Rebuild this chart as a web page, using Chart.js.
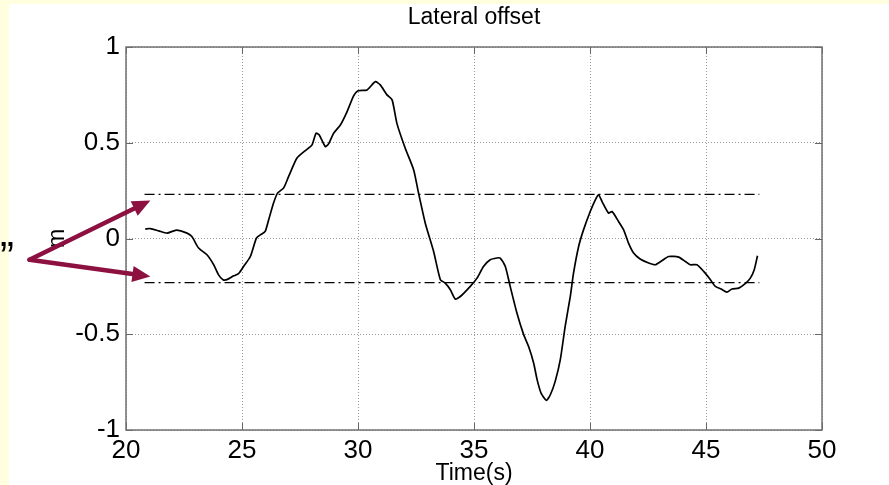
<!DOCTYPE html>
<html>
<head>
<meta charset="utf-8">
<script src="https://cdn.jsdelivr.net/npm/chart.js@4/dist/chart.umd.min.js"></script>
<style>
    html, body { margin: 0; padding: 0; background: #ffffe0; }
    canvas { display: block; }
</style>
</head>
<body>
<canvas id="offsetChart" width="889" height="485"></canvas>
<script>
// values (time in s, lateral offset in m)
const timeS = [20.83, 21.05, 21.41, 21.77, 22.17, 22.63, 22.84, 23.13, 23.49, 23.78,
    23.99, 24.18, 24.35, 24.64, 24.85, 25.07, 25.36, 25.62, 25.79, 26.0,
    26.15, 26.36, 26.53, 26.79, 27.01, 27.37, 27.73, 28.02, 28.19, 28.33,
    28.59, 28.73, 28.95, 29.24, 29.53, 29.81, 30.0, 30.39, 30.75, 30.96,
    31.25, 31.47, 31.68, 32.04, 32.4, 32.61, 32.9, 33.26, 33.55, 33.76,
    33.98, 34.19, 34.41, 34.84, 35.13, 35.41, 35.7, 35.99, 36.13, 36.35,
    36.56, 36.85, 37.14, 37.35, 37.57, 37.72, 37.89, 38.12, 38.29, 38.5,
    38.72, 38.93, 39.15, 39.29, 39.51, 39.72, 40.01, 40.23, 40.37, 40.52,
    40.8, 40.95, 41.23, 41.45, 41.66, 41.88, 42.16, 42.53, 42.81, 43.1,
    43.39, 43.82, 44.11, 44.32, 44.61, 44.9, 45.19, 45.4, 45.65, 45.9,
    46.12, 46.41, 46.69, 46.91, 47.08, 47.22];
const offsetM = [0.049, 0.052, 0.04, 0.028, 0.044, 0.028, 0.01, -0.05, -0.085, -0.137,
    -0.19, -0.215, -0.215, -0.195, -0.184, -0.146, -0.094, 0.002, 0.019, 0.037,
    0.098, 0.185, 0.237, 0.263, 0.324, 0.42, 0.459, 0.489, 0.55, 0.541,
    0.48, 0.494, 0.55, 0.593, 0.663, 0.745, 0.772, 0.776, 0.819, 0.802,
    0.75, 0.724, 0.6, 0.47, 0.358, 0.237, 0.08, -0.068, -0.215, -0.233,
    -0.268, -0.316, -0.303, -0.25, -0.207, -0.146, -0.111, -0.102, -0.102, -0.146,
    -0.25, -0.389, -0.502, -0.563, -0.65, -0.737, -0.807, -0.845, -0.816, -0.746,
    -0.633, -0.459, -0.303, -0.181, -0.042, 0.045, 0.141, 0.202, 0.228, 0.193,
    0.133, 0.141, 0.089, 0.045, -0.024, -0.076, -0.107, -0.128, -0.137, -0.116,
    -0.094, -0.097, -0.12, -0.137, -0.137, -0.172, -0.215, -0.25, -0.264, -0.28,
    -0.264, -0.259, -0.236, -0.207, -0.163, -0.09];

// dash-dot band limits
const bandLimits = [0.23, -0.23];
const bandSpan = [20.8, 47.3];

const xTicks = [20, 25, 30, 35, 40, 45, 50];
const yTicks = [-1, -0.5, 0, 0.5, 1];

// red arrows (data units): one tail, two heads
const arrowTail = { x: 15.84, y: -0.111 };
const arrowHeads = [{ x: 21.05, y: 0.198 }, { x: 21.05, y: -0.198 }];

const FONT = "'Liberation Sans', Arial, sans-serif";

const pagePaint = {
    id: "pagePaint",
    beforeDraw(chart) {
        const ctx = chart.ctx;
        ctx.save();
        ctx.fillStyle = "#ffffe0";
        ctx.fillRect(0, 0, chart.width, chart.height);
        ctx.fillStyle = "#ffffff";
        ctx.fillRect(9, 4, chart.width - 9, chart.height - 4);
        ctx.restore();
    }
};

// MATLAB style box with inward ticks on all sides
const axesBox = {
    id: "axesBox",
    afterDraw(chart) {
        const { ctx, chartArea: a, scales } = chart;
        ctx.save();
        ctx.strokeStyle = "#666";
        ctx.lineWidth = 1;
        ctx.beginPath();
        xTicks.forEach(v => {
            const px = Math.round(scales.x.getPixelForValue(v)) + 0.5;
            ctx.moveTo(px, a.bottom); ctx.lineTo(px, a.bottom - 7);
            ctx.moveTo(px, a.top); ctx.lineTo(px, a.top + 7);
        });
        yTicks.forEach(v => {
            const py = Math.round(scales.y.getPixelForValue(v)) + 0.5;
            ctx.moveTo(a.left, py); ctx.lineTo(a.left + 7, py);
            ctx.moveTo(a.right, py); ctx.lineTo(a.right - 7, py);
        });
        ctx.stroke();
        ctx.lineWidth = 1.5;
        ctx.strokeStyle = "#707070";
        ctx.strokeRect(a.left, a.top, a.right - a.left, a.bottom - a.top);
        ctx.restore();
    }
};

const arrows = {
    id: "arrows",
    afterDraw(chart) {
        const { ctx, scales } = chart;
        const tx = scales.x.getPixelForValue(arrowTail.x);
        const ty = scales.y.getPixelForValue(arrowTail.y);
        ctx.save();
        ctx.strokeStyle = "#8c1040";
        ctx.fillStyle = "#8c1040";
        ctx.lineWidth = 4.5;
        ctx.lineCap = "round";
        arrowHeads.forEach(h => {
            const hx = scales.x.getPixelForValue(h.x);
            const hy = scales.y.getPixelForValue(h.y);
            const ang = Math.atan2(hy - ty, hx - tx);
            const len = 18, half = 8;
            const bx = hx - len * Math.cos(ang);
            const by = hy - len * Math.sin(ang);
            ctx.beginPath();
            ctx.moveTo(tx, ty);
            ctx.lineTo(bx, by);
            ctx.stroke();
            ctx.beginPath();
            ctx.moveTo(hx, hy);
            ctx.lineTo(bx + half * Math.sin(ang), by - half * Math.cos(ang));
            ctx.lineTo(bx - half * Math.sin(ang), by + half * Math.cos(ang));
            ctx.closePath();
            ctx.fill();
        });
        // leftover closing quote from the slide text
        ctx.fillStyle = "#000";
        ctx.font = "42px " + FONT;
        ctx.textBaseline = "alphabetic";
        ctx.fillText("\u201D", 0, 271);
        ctx.restore();
    }
};

const curve = timeS.map((t, i) => ({ x: t, y: offsetM[i] }));
const bandSets = bandLimits.map(v => ({
    data: bandSpan.map(t => ({ x: t, y: v })),
    borderColor: "#000",
    borderWidth: 1.3,
    borderDash: [10, 4, 2, 4],
    pointRadius: 0
}));

new Chart(document.getElementById("offsetChart"), {
    type: "line",
    data: {
        datasets: [{
            data: curve,
            borderColor: "#000",
            borderWidth: 1.7,
            pointRadius: 0,
            tension: 0.2
        }, ...bandSets]
    },
    options: {
        responsive: false,
        animation: false,
        devicePixelRatio: 1,
        layout: { padding: { left: 0, right: 67, top: 0, bottom: 0 } },
        plugins: {
            legend: { display: false },
            tooltip: { enabled: false },
            title: {
                display: true,
                fullSize: false,
                text: "Lateral offset",
                color: "#000",
                font: { family: FONT, size: 23, weight: "normal", lineHeight: 1.2 },
                padding: { top: 4, bottom: 15.4 }
            }
        },
        scales: {
            x: {
                type: "linear",
                min: 20,
                max: 50,
                afterBuildTicks: s => { s.ticks = xTicks.map(v => ({ value: v })); },
                afterFit: s => { s.height = 55; },
                grid: { color: "#999", lineWidth: 1, drawTicks: false, borderDash: [1, 2] },
                border: { display: false, dash: [1, 2] },
                ticks: {
                    color: "#000",
                    padding: 8,
                    maxRotation: 0,
                    font: { family: FONT, size: 26, lineHeight: 1 },
                    callback: v => String(v)
                },
                title: {
                    display: true,
                    text: "Time(s)",
                    color: "#000",
                    font: { family: FONT, size: 23, lineHeight: 1 },
                    padding: { top: 0, bottom: 0 }
                }
            },
            y: {
                type: "linear",
                min: -1,
                max: 1,
                afterBuildTicks: s => { s.ticks = yTicks.map(v => ({ value: v })); },
                afterFit: s => { s.width = 126; },
                grid: { color: "#999", lineWidth: 1, drawTicks: false, borderDash: [1, 2] },
                border: { display: false, dash: [1, 2] },
                ticks: {
                    color: "#000",
                    padding: 6,
                    font: { family: FONT, size: 26, lineHeight: 1 },
                    callback: v => String(v)
                },
                title: {
                    display: true,
                    text: "m",
                    color: "#000",
                    font: { family: FONT, size: 23, lineHeight: 1.2 },
                    padding: { top: 44, bottom: 0 }
                }
            }
        }
    },
    plugins: [pagePaint, axesBox, arrows]
});
</script>
</body>
</html>
